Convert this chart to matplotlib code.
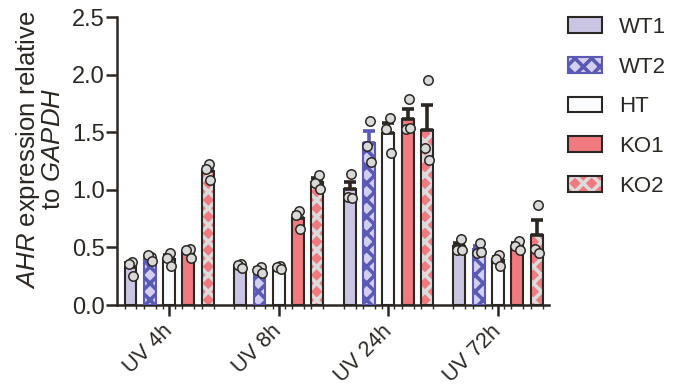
import numpy as np
import matplotlib
matplotlib.use("Agg")
import matplotlib.pyplot as plt
from matplotlib.patches import Patch, Rectangle
from matplotlib.legend_handler import HandlerBase
from matplotlib.transforms import ScaledTranslation

plt.rcParams['font.family'] = ['Liberation Sans', 'DejaVu Sans']
plt.rcParams['mathtext.fontset'] = 'custom'
plt.rcParams['mathtext.rm'] = 'Liberation Sans'
plt.rcParams['mathtext.it'] = 'Liberation Sans:italic'
plt.rcParams['hatch.linewidth'] = 2.6

# ---- data: individual replicates (relative AHR expression) ----
timepoints = ["UV 4h", "UV 8h", "UV 24h", "UV 72h"]
genotypes = ["WT1", "WT2", "HT", "KO1", "KO2"]

wt1 = [[0.37, 0.36, 0.25], [0.36, 0.35, 0.32], [1.14, 0.94, 0.93], [0.573, 0.477, 0.477]]
wt2 = [[0.42, 0.43, 0.38], [0.33, 0.30, 0.28], [1.60, 1.38, 1.24], [0.54, 0.455, 0.46]]
ht = [[0.45, 0.41, 0.34], [0.34, 0.33, 0.31], [1.62, 1.53, 1.32], [0.43, 0.40, 0.34]]
ko1 = [[0.49, 0.48, 0.41], [0.82, 0.78, 0.66], [1.79, 1.53, 1.535], [0.555, 0.51, 0.48]]
ko2 = [[1.22, 1.18, 1.085], [1.13, 1.06, 1.01], [1.95, 1.36, 1.26], [0.87, 0.49, 0.45]]
replicates = [wt1, wt2, ht, ko1, ko2]

yticks = [0.0, 0.5, 1.0, 1.5, 2.0, 2.5]

# ---- style ----
DARK = "#2b2722"
styles = [
    dict(face="#cbc5e4", hatch=None, hcol=None, edge=DARK),
    dict(face="#d2cff0", hatch="xx", hcol="#5a5ab6", edge="#5a5ab6"),
    dict(face="#fbfcfe", hatch=None, hcol=None, edge=DARK),
    dict(face="#f07a80", hatch=None, hcol=None, edge=DARK),
    dict(face="#f07a80", hatch="xx", hcol="#dcdcdc", edge=DARK),
]

fig = plt.figure(figsize=(6.86, 3.87), dpi=100)
ax = fig.add_axes([117 / 686, 1 - 305 / 387, (549 - 117) / 686, (305 - 17) / 387])

step = 0.176
width = 0.108
offsets = (np.arange(5) - 2) * step
jitter = [0.012, -0.018, 0.02]
xg = np.arange(len(timepoints))

for gi, (reps, st) in enumerate(zip(replicates, styles)):
    vals = np.array(reps)
    means = vals.mean(axis=1)
    sems = vals.std(axis=1, ddof=1) / np.sqrt(vals.shape[1])
    x = xg + offsets[gi]
    if st["hatch"]:
        ax.bar(x, means, width, color=st["face"], edgecolor=st["hcol"],
               hatch=st["hatch"], linewidth=0, zorder=2)
        ax.bar(x, means, width, fill=False, edgecolor=st["edge"],
               linewidth=1.5, zorder=3)
    else:
        ax.bar(x, means, width, color=st["face"], edgecolor=st["edge"],
               linewidth=1.5, zorder=3)
    ax.errorbar(x, means, yerr=[np.zeros_like(sems), sems], fmt="none",
                ecolor=st["edge"], elinewidth=2.6, capsize=4, capthick=2.6,
                zorder=4)
    for ti in range(len(timepoints)):
        px = x[ti] + np.array(jitter[:vals.shape[1]])
        ax.scatter(px, vals[ti], s=46, facecolor="#d9d9d9", edgecolor=DARK,
                   linewidth=1.1, zorder=5)

ax.set_xlim(-0.475, 3.465)
ax.set_ylim(0, 2.5)
ax.set_yticks(yticks)
ax.set_yticklabels([f"{t:.1f}" for t in yticks])
ax.set_xticks(xg)
ax.set_xticklabels(timepoints, rotation=45, ha="right", va="center",
                   rotation_mode="anchor", fontsize=15.5)
shift = ScaledTranslation(8 / 100, 0, fig.dpi_scale_trans)
for lab in ax.get_xticklabels():
    lab.set_transform(lab.get_transform() + shift)
ax.set_xticks(np.concatenate([xg + o + s * width / 2 for o in offsets for s in (-1, 1)]),
              minor=True)

for side in ("top", "right"):
    ax.spines[side].set_visible(False)
for side in ("left", "bottom"):
    ax.spines[side].set_linewidth(1.8)
    ax.spines[side].set_color(DARK)
ax.tick_params(axis="y", which="major", labelsize=17)
ax.tick_params(axis="both", which="major", length=8, width=1.8, color=DARK,
               labelcolor=DARK, pad=1)
ax.tick_params(axis="x", which="minor", length=3, width=1.0, color=DARK)
ax.tick_params(axis="x", which="major", pad=8.5)

fig.text(0.058, 0.614, "$\\it{AHR}$ expression relative\nto $\\it{GAPDH}$",
         rotation=90, ha="center", va="center", multialignment="center",
         fontsize=18.5, color=DARK, linespacing=0.95)


class FilledHandler(HandlerBase):
    def __init__(self, st):
        super().__init__()
        self.st = st

    def create_artists(self, legend, orig_handle, xdescent, ydescent, width,
                       height, fontsize, trans):
        st = self.st
        arts = []
        if st["hatch"]:
            arts.append(Rectangle((-xdescent, -ydescent), width, height,
                                  facecolor=st["face"], edgecolor=st["hcol"],
                                  hatch=st["hatch"], linewidth=0, transform=trans))
            arts.append(Rectangle((-xdescent, -ydescent), width, height, fill=False,
                                  edgecolor=st["edge"], linewidth=1.5, transform=trans))
        else:
            arts.append(Rectangle((-xdescent, -ydescent), width, height,
                                  facecolor=st["face"], edgecolor=st["edge"],
                                  linewidth=1.5, transform=trans))
        return arts


handles = [Patch(label=g) for g in genotypes]
leg = fig.legend(handles, genotypes, loc="upper left",
                 bbox_to_anchor=(568 / 686, 1 - 17 / 387), frameon=False,
                 fontsize=16, handlelength=1.53, handleheight=0.72,
                 handletextpad=0.77, labelspacing=0.84, borderaxespad=0,
                 borderpad=0,
                 handler_map={h: FilledHandler(st) for h, st in zip(handles, styles)})
for t in leg.get_texts():
    t.set_color(DARK)

fig.savefig("out.png", dpi=100)
